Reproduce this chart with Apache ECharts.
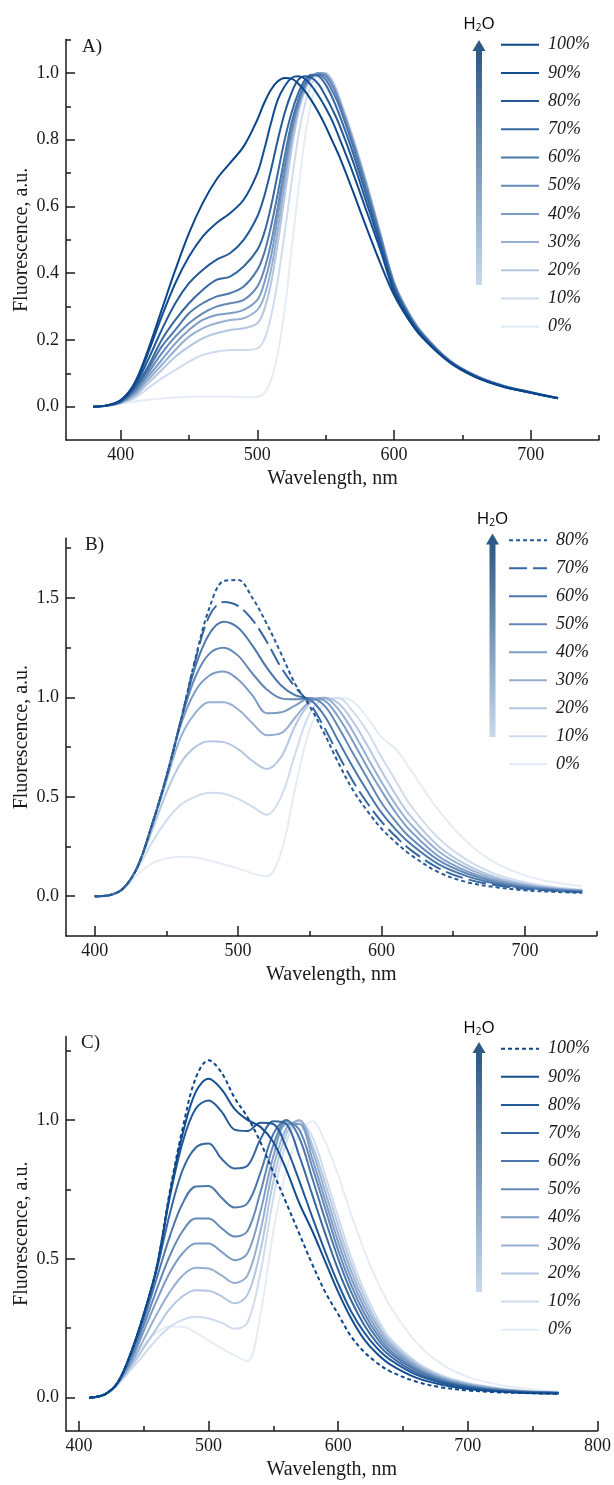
<!DOCTYPE html>
<html>
<head>
<meta charset="utf-8">
<title>Fluorescence vs water fraction</title>
<script src="https://cdn.jsdelivr.net/npm/echarts@6/dist/echarts.min.js"></script>
<style>
  html, body { margin: 0; padding: 0; background: #fff; }
  .panel { width: 614px; height: 495px; }
</style>
</head>
<body>
<div id="panelA" class="panel"></div>
<div id="panelB" class="panel"></div>
<div id="panelC" class="panel"></div>
<script>
// ---- panel A ----
const wavelengthA = [380, 390, 400, 410, 420, 430, 440, 450, 460, 470, 480, 490, 500, 505, 510, 515, 520, 525, 530, 535, 540, 545, 550, 555, 560, 570, 580, 590, 600, 610, 620, 640, 660, 680, 700, 720];
const fluorA100 = [0, .004, .02, .07, .17, .29, .41, .52, .61, .68, .73, .78, .86, .91, .95, .975, .985, .983, .968, .945, .915, .88, .84, .795, .75, .645, .535, .43, .335, .265, .21, .135, .088, .06, .042, .025];
const fluorA90 = [0, .004, .018, .065, .16, .27, .37, .45, .51, .55, .58, .62, .7, .77, .85, .92, .96, .985, .99, .982, .96, .93, .895, .855, .805, .7, .585, .47, .345, .27, .213, .136, .089, .06, .042, .025];
const fluorA80 = [0, .004, .017, .06, .14, .23, .31, .37, .41, .44, .46, .5, .57, .63, .71, .8, .88, .94, .98, .99, .985, .965, .93, .89, .845, .735, .61, .485, .355, .275, .216, .137, .09, .061, .043, .025];
const fluorA70 = [0, .004, .016, .055, .12, .2, .26, .31, .35, .38, .39, .42, .47, .52, .6, .7, .8, .88, .94, .98, .995, .99, .965, .925, .875, .76, .63, .495, .36, .278, .218, .138, .09, .061, .043, .025];
const fluorA60 = [0, .004, .015, .05, .11, .18, .23, .28, .31, .33, .34, .36, .41, .46, .54, .64, .75, .85, .92, .97, .99, .995, .98, .945, .9, .78, .645, .505, .365, .28, .22, .139, .091, .062, .043, .026];
const fluorA50 = [0, .004, .014, .045, .1, .16, .21, .25, .28, .3, .31, .32, .36, .41, .49, .6, .72, .83, .91, .965, .99, .998, .99, .96, .91, .79, .655, .51, .37, .283, .222, .14, .092, .062, .043, .026];
const fluorA40 = [0, .003, .013, .04, .09, .14, .19, .23, .26, .275, .28, .29, .32, .37, .45, .57, .7, .82, .905, .96, .99, 1.0, .995, .965, .915, .795, .66, .515, .37, .285, .223, .14, .092, .062, .043, .026];
const fluorA30 = [0, .003, .012, .035, .08, .125, .17, .21, .235, .25, .26, .265, .29, .33, .41, .53, .67, .8, .895, .955, .99, 1.0, .997, .97, .92, .8, .665, .515, .372, .286, .224, .141, .093, .063, .044, .026];
const fluorA20 = [0, .003, .011, .03, .07, .11, .15, .18, .205, .22, .23, .235, .25, .29, .37, .49, .63, .77, .88, .95, .985, 1.0, .998, .972, .922, .802, .667, .517, .373, .287, .225, .141, .093, .063, .044, .026];
const fluorA10 = [0, .003, .01, .025, .055, .085, .11, .135, .155, .165, .17, .17, .175, .2, .27, .38, .52, .67, .81, .91, .97, .995, 1.0, .975, .925, .805, .67, .52, .375, .288, .226, .142, .093, .063, .044, .026];
const fluorA0 = [0, .003, .01, .016, .021, .025, .028, .03, .031, .031, .03, .029, .03, .04, .08, .16, .29, .47, .65, .81, .92, .98, 1.0, .98, .93, .81, .67, .52, .375, .29, .226, .142, .093, .063, .044, .026];

// ---- panel B ----
const wavelengthB = [400, 410, 420, 430, 440, 450, 460, 470, 480, 490, 500, 510, 520, 530, 540, 550, 560, 570, 580, 590, 600, 610, 620, 640, 660, 680, 700, 720, 740];
const fluorB80 = [0, .005, .04, .15, .36, .6, .88, 1.19, 1.45, 1.585, 1.59, 1.5, 1.37, 1.22, 1.065, .955, .82, .67, .535, .43, .34, .27, .21, .12, .07, .045, .03, .022, .017];
const fluorB70 = [0, .005, .04, .15, .36, .6, .88, 1.18, 1.41, 1.48, 1.46, 1.39, 1.28, 1.15, 1.05, .97, .85, .71, .58, .47, .375, .3, .235, .14, .085, .055, .037, .027, .02];
const fluorB60 = [0, .005, .04, .15, .36, .6, .88, 1.15, 1.32, 1.38, 1.35, 1.26, 1.15, 1.06, 1.01, .99, .91, .78, .65, .53, .42, .335, .265, .16, .1, .063, .042, .03, .022];
const fluorB50 = [0, .005, .04, .15, .36, .6, .88, 1.1, 1.22, 1.25, 1.21, 1.12, 1.04, .995, .99, .995, .96, .85, .72, .595, .47, .375, .295, .18, .113, .07, .047, .033, .024];
const fluorB40 = [0, .005, .04, .15, .36, .6, .86, 1.03, 1.11, 1.13, 1.09, 1.01, .92, .925, .96, .995, .985, .9, .78, .65, .53, .42, .33, .2, .125, .078, .052, .036, .026];
const fluorB30 = [0, .005, .04, .15, .35, .58, .8, .92, .975, .975, .94, .87, .81, .82, .9, .98, .998, .94, .83, .7, .575, .46, .365, .225, .14, .087, .057, .039, .028];
const fluorB20 = [0, .005, .04, .15, .33, .52, .67, .75, .78, .775, .74, .68, .64, .7, .86, .97, .998, .97, .88, .76, .63, .51, .405, .25, .155, .096, .062, .042, .03];
const fluorB10 = [0, .005, .04, .14, .27, .38, .46, .5, .52, .515, .49, .45, .41, .5, .72, .92, .99, .995, .93, .83, .7, .58, .46, .29, .18, .11, .07, .046, .033];
const fluorB0 = [0, .005, .035, .11, .165, .19, .198, .195, .18, .16, .14, .115, .1, .22, .55, .84, .97, .998, .98, .9, .8, .74, .64, .43, .27, .165, .105, .07, .05];

// ---- panel C ----
const wavelengthC = [408, 420, 430, 440, 450, 460, 470, 480, 490, 500, 510, 520, 530, 540, 550, 560, 570, 580, 590, 600, 610, 620, 630, 640, 660, 680, 700, 720, 740, 770];
const fluorC100 = [0, .012, .055, .16, .3, .47, .74, .97, 1.15, 1.215, 1.17, 1.08, 1.01, .92, .81, .7, .59, .48, .38, .3, .22, .165, .125, .095, .058, .037, .026, .02, .017, .014];
const fluorC90 = [0, .012, .055, .16, .3, .47, .73, .95, 1.1, 1.148, 1.11, 1.04, 1.0, .975, .92, .82, .7, .6, .49, .38, .285, .21, .158, .12, .072, .046, .031, .023, .018, .015];
const fluorC80 = [0, .012, .055, .16, .3, .47, .72, .92, 1.04, 1.07, 1.03, .965, .96, .99, .985, .9, .78, .65, .525, .41, .31, .235, .178, .137, .083, .053, .035, .025, .019, .016];
const fluorC70 = [0, .012, .055, .16, .3, .46, .66, .82, .9, .915, .86, .825, .835, .93, .995, .985, .87, .73, .59, .46, .35, .262, .196, .15, .09, .057, .038, .027, .02, .016];
const fluorC60 = [0, .012, .055, .15, .28, .43, .58, .7, .76, .762, .72, .685, .7, .81, .95, 1.0, .935, .79, .64, .5, .38, .285, .213, .162, .098, .061, .04, .028, .021, .017];
const fluorC50 = [0, .012, .054, .14, .26, .39, .51, .6, .645, .645, .61, .58, .6, .74, .91, .995, .965, .83, .68, .53, .405, .305, .228, .172, .104, .065, .042, .03, .022, .017];
const fluorC40 = [0, .012, .053, .13, .24, .35, .45, .52, .555, .555, .525, .495, .52, .67, .87, .985, .985, .86, .71, .56, .43, .325, .243, .183, .11, .068, .045, .032, .023, .018];
const fluorC30 = [0, .012, .052, .12, .21, .3, .38, .44, .468, .465, .44, .413, .44, .6, .83, .97, .998, .89, .74, .59, .455, .345, .258, .193, .117, .072, .048, .034, .024, .018];
const fluorC20 = [0, .012, .05, .11, .18, .25, .32, .365, .387, .385, .365, .34, .37, .53, .78, .95, 1.0, .91, .77, .62, .48, .365, .272, .203, .124, .076, .05, .035, .025, .019];
const fluorC10 = [0, .012, .048, .1, .155, .21, .255, .28, .291, .285, .27, .248, .27, .45, .72, .92, .995, .94, .8, .65, .505, .385, .288, .214, .13, .08, .053, .037, .026, .02];
const fluorC0 = [0, .012, .045, .12, .19, .235, .256, .255, .235, .205, .178, .152, .132, .3, .6, .82, .95, .995, .92, .8, .66, .53, .42, .33, .2, .12, .075, .05, .035, .022];

// tick values / labels
const ticksA = { xMajor: [400, 500, 600, 700], xMinor: [450, 550, 650, 750], yMajor: [0, 0.2, 0.4, 0.6, 0.8, 1.0], yMinor: [0.1, 0.3, 0.5, 0.7, 0.9, 1.1] };
const ticksB = { xMajor: [400, 500, 600, 700], xMinor: [450, 550, 650, 750], yMajor: [0, 0.5, 1.0, 1.5], yMinor: [0.25, 0.75, 1.25, 1.75] };
const ticksC = { xMajor: [400, 500, 600, 700, 800], xMinor: [450, 550, 650, 750], yMajor: [0, 0.5, 1.0], yMinor: [0.25, 0.75, 1.25] };

const SERIF = "'Liberation Serif', 'Times New Roman', serif";
const INK = "#1a1a1a";

// one shade per water content, dark -> light
const shade = {
  "100%": "#0c468a", "90%": "#144e91", "80%": "#245997", "70%": "#3767a0",
  "60%": "#4c77ab", "50%": "#6489b7", "40%": "#7c9cc4", "30%": "#97b0d1",
  "20%": "#b4c7e0", "10%": "#d0dced", "0%": "#e5ecf6",
};

function drawPanel(cfg) {
  const chart = echarts.init(document.getElementById(cfg.id));
  const g = cfg.grid;

  // lightest first so the dark curves end up on top
  const series = cfg.curves.slice().reverse().map((c) => ({
    name: c.label,
    type: "line",
    xAxisIndex: 0,
    yAxisIndex: 0,
    data: cfg.wl.map((w, i) => [w, c.values[i]]),
    symbol: "none",
    smooth: 0.35,
    silent: true,
    lineStyle: { color: shade[c.label], width: 2, type: c.dash || "solid" },
    itemStyle: { color: shade[c.label] },
  }));

  const axisLine = { show: true, onZero: false, lineStyle: { color: INK, width: 1.5 } };
  const tickLine = { color: INK, width: 1.5 };
  const nameStyle = { fontFamily: SERIF, fontSize: 20, color: INK };

  const a = cfg.arrow;
  const option = {
    animation: false,
    grid: { left: g.left, right: g.right, top: g.top, bottom: g.bottom },
    xAxis: [
      {
        type: "value", min: cfg.xMin, max: cfg.xMax, position: "bottom",
        axisLine,
        axisTick: { inside: true, length: 10, customValues: cfg.ticks.xMajor, lineStyle: tickLine },
        axisLabel: { customValues: cfg.ticks.xMajor, margin: 6, fontFamily: SERIF, fontSize: 18, color: INK },
        splitLine: { show: false },
        name: "Wavelength, nm", nameLocation: "middle", nameGap: 29, nameMoveOverlap: false, nameTextStyle: nameStyle,
      },
      {
        // minor ticks only
        type: "value", min: cfg.xMin, max: cfg.xMax, position: "bottom",
        axisLine: { show: false, onZero: false },
        axisTick: { inside: true, length: 5, customValues: cfg.ticks.xMinor, lineStyle: tickLine },
        axisLabel: { show: false }, splitLine: { show: false },
      },
    ],
    yAxis: [
      {
        type: "value", min: cfg.yMin, max: cfg.yMax, position: "left",
        axisLine,
        axisTick: { inside: true, length: 9, customValues: cfg.ticks.yMajor, lineStyle: tickLine },
        axisLabel: {
          customValues: cfg.ticks.yMajor, margin: 7, fontFamily: SERIF, fontSize: 18, color: INK,
          formatter: (v) => v.toFixed(1),
        },
        splitLine: { show: false },
        name: "Fluorescence, a.u.", nameLocation: "middle", nameGap: 34, nameMoveOverlap: false, nameTextStyle: nameStyle,
      },
      {
        type: "value", min: cfg.yMin, max: cfg.yMax, position: "left",
        axisLine: { show: false, onZero: false },
        axisTick: { inside: true, length: 5, customValues: cfg.ticks.yMinor, lineStyle: tickLine },
        axisLabel: { show: false }, splitLine: { show: false },
      },
    ],
    legend: {
      data: cfg.curves.map((c) => c.label),
      orient: "vertical",
      left: cfg.legend.left, top: cfg.legend.top,
      padding: 0,
      itemWidth: 38, itemHeight: 14, itemGap: cfg.legend.gap,
      selectedMode: false,
      itemStyle: { opacity: 0, borderWidth: 0 },
      textStyle: { fontFamily: SERIF, fontStyle: "italic", fontSize: 18, color: INK, lineHeight: 14, padding: [0, 0, 0, 4] },
    },
    graphic: [
      {
        type: "rect",
        shape: { x: a.x - 3, y: a.headBottom - 1, width: 6, height: a.bottom - a.headBottom + 1 },
        style: {
          fill: new echarts.graphic.LinearGradient(0, 0, 0, 1, [
            { offset: 0, color: "#2d5985" },
            { offset: 1, color: "#c8daed" },
          ]),
        },
        silent: true,
      },
      {
        type: "polygon",
        shape: { points: [[a.x - 6.5, a.headBottom], [a.x, a.top], [a.x + 6.5, a.headBottom]] },
        style: { fill: "#2d5985" },
        silent: true,
      },
      {
        type: "text",
        x: a.x, y: a.labelY,
        style: {
          text: "{n|H}{s|2}{n|O}",
          align: "center", verticalAlign: "middle",
          rich: {
            n: { fontFamily: "'Open Sans', 'Noto Sans', sans-serif", fontSize: 17, color: "#1f5b7d", lineHeight: 18 },
            s: { fontFamily: "'Open Sans', 'Noto Sans', sans-serif", fontSize: 10, color: "#1f5b7d", padding: [9, 0, 0, 0], lineHeight: 18 },
          },
        },
        silent: true,
      },
      {
        type: "text",
        x: cfg.letter.x, y: cfg.letter.y,
        style: { text: cfg.letter.text, fontFamily: SERIF, fontSize: 19, fill: INK, verticalAlign: "top" },
        silent: true,
      },
    ],
    series,
  };

  chart.setOption(option);
  return chart;
}

drawPanel({
  id: "panelA",
  wl: wavelengthA, xMin: 360, xMax: 750, yMin: -0.1, yMax: 1.1, ticks: ticksA,
  grid: { left: 66, right: 15, top: 39.6, bottom: 54.9 },
  legend: { left: 500, top: 35.7, gap: 10.2 },
  arrow: { x: 479, top: 40, headBottom: 51, bottom: 285, labelY: 24 },
  letter: { text: "A)", x: 82, y: 38 },
  curves: [
    { label: "100%", values: fluorA100 }, { label: "90%", values: fluorA90 },
    { label: "80%", values: fluorA80 }, { label: "70%", values: fluorA70 },
    { label: "60%", values: fluorA60 }, { label: "50%", values: fluorA50 },
    { label: "40%", values: fluorA40 }, { label: "30%", values: fluorA30 },
    { label: "20%", values: fluorA20 }, { label: "10%", values: fluorA10 },
    { label: "0%", values: fluorA0 },
  ],
});

drawPanel({
  id: "panelB",
  wl: wavelengthB, xMin: 380, xMax: 750, yMin: -0.2, yMax: 1.8, ticks: ticksB,
  grid: { left: 66, right: 17.4, top: 43.3, bottom: 53.5 },
  legend: { left: 508, top: 36.3, gap: 10 },
  arrow: { x: 492.5, top: 38.5, headBottom: 49.5, bottom: 242, labelY: 24 },
  letter: { text: "B)", x: 85, y: 41 },
  curves: [
    { label: "80%", values: fluorB80, dash: [4, 3] }, { label: "70%", values: fluorB70, dash: [18, 6] },
    { label: "60%", values: fluorB60 }, { label: "50%", values: fluorB50 },
    { label: "40%", values: fluorB40 }, { label: "30%", values: fluorB30 },
    { label: "20%", values: fluorB20 }, { label: "10%", values: fluorB10 },
    { label: "0%", values: fluorB0 },
  ],
});

drawPanel({
  id: "panelC",
  wl: wavelengthC, xMin: 390, xMax: 800, yMin: -0.12, yMax: 1.3, ticks: ticksC,
  grid: { left: 66, right: 14.7, top: 46.6, bottom: 49 },
  legend: { left: 500, top: 49.7, gap: 10.1 },
  arrow: { x: 479, top: 52, headBottom: 63, bottom: 302, labelY: 38 },
  letter: { text: "C)", x: 81, y: 44 },
  curves: [
    { label: "100%", values: fluorC100, dash: [4, 3] }, { label: "90%", values: fluorC90 },
    { label: "80%", values: fluorC80 }, { label: "70%", values: fluorC70 },
    { label: "60%", values: fluorC60 }, { label: "50%", values: fluorC50 },
    { label: "40%", values: fluorC40 }, { label: "30%", values: fluorC30 },
    { label: "20%", values: fluorC20 }, { label: "10%", values: fluorC10 },
    { label: "0%", values: fluorC0 },
  ],
});
</script>
</body>
</html>
